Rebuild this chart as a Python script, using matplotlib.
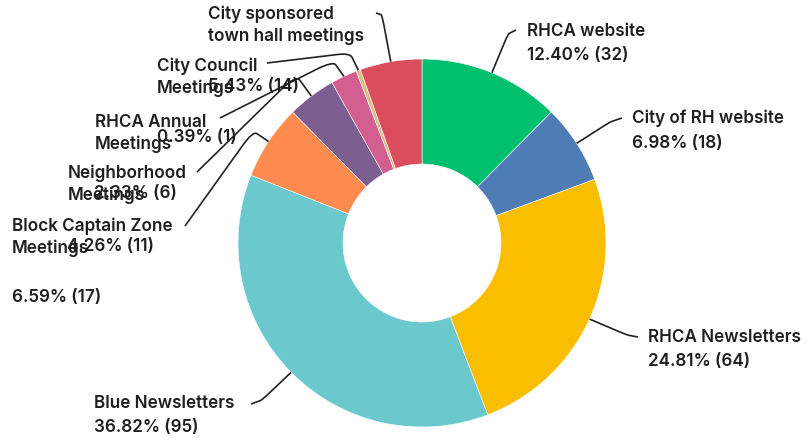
import numpy as np
import matplotlib
matplotlib.use('Agg')
import matplotlib.pyplot as plt
from matplotlib.path import Path
from matplotlib.patches import PathPatch

# Data
labels = ['RHCA website', 'City of RH website', 'RHCA Newsletters', 'Blue Newsletters',
          'Block Captain Zone\nMeetings', 'Neighborhood\nMeetings', 'RHCA Annual\nMeetings',
          'City Council\nMeetings', 'City sponsored\ntown hall meetings']
counts = [32, 18, 64, 95, 17, 11, 6, 1, 14]
colors = ['#00BF6F', '#507CB6', '#F9BE00', '#6BC8CD', '#FF8B4F',
          '#7D5E90', '#D25F90', '#DAC086', '#DB4D5C']

total = sum(counts)
pcts = [100 * c / total for c in counts]

# layout (pixel coords, y downwards)
cx, cy, R, hole = 422, 243, 184, 79
# name x, name first-line y, pct x, pct y, elbow, end of leader
lab_pos = [
    (527, 31, 527, 55, (508, 34), (516, 30)),
    (632, 118, 632, 143, (610, 122), (622, 118)),
    (648, 337, 648, 362, (627, 335), (638, 337)),
    (94, 403, 94, 428, (262, 400), (251, 404)),
    (12, 226, 12, 298, (253, 131), (185, 226)),
    (68, 173, 67, 246, (296, 75), (197, 172)),
    (95, 122, 94, 193, (333, 61), (220, 118)),
    (157, 66, 157, 137, (350, 53), (267, 63)),
    (208, 14, 208, 86, (382, 15), (376, 13)),
]

fig = plt.figure(figsize=(8.1, 4.43), dpi=100)
ax = fig.add_axes([0, 0, 1, 1])

# y axis is inverted, so start at -90 (top) and go "counterclock" = clockwise on screen
wedges, _ = ax.pie(counts, colors=colors, startangle=-90, counterclock=True,
                   center=(cx, cy), radius=R, frame=True,
                   wedgeprops=dict(width=R - hole, edgecolor='white', linewidth=0.4))
ax.set_xlim(0, 810)
ax.set_ylim(443, 0)
ax.set_aspect('equal')
ax.axis('off')

font = dict(family=['Inter', 'DejaVu Sans'], fontsize=12.3, fontweight='semibold', color='#1f1f1f')
lh = 22.5

for i, w in enumerate(wedges):
    ang = np.deg2rad((w.theta1 + w.theta2) / 2)
    ax0 = cx + R * np.cos(ang)
    ay0 = cy + R * np.sin(ang)
    nx, ny, px, py, elbow, end = lab_pos[i]
    # leader line with a rounded elbow
    ex, ey = elbow
    t = 0.75
    a = (ax0 + (ex - ax0) * t, ay0 + (ey - ay0) * t)
    b = (ex + (end[0] - ex) * (1 - t) * 0.6, ey + (end[1] - ey) * (1 - t) * 0.6)
    path = Path([(ax0, ay0), a, elbow, b, end],
                [Path.MOVETO, Path.LINETO, Path.CURVE3, Path.CURVE3, Path.LINETO])
    ax.add_patch(PathPatch(path, fill=False, edgecolor='#222222', linewidth=1.2, zorder=3))

    for k, line in enumerate(labels[i].split('\n')):
        ax.text(nx, ny + k * lh, line, ha='left', va='center', zorder=4, **font)
    ax.text(px, py, f'{pcts[i]:.2f}% ({counts[i]})', ha='left', va='center', zorder=4, **font)

plt.savefig('out.png', dpi=100)
